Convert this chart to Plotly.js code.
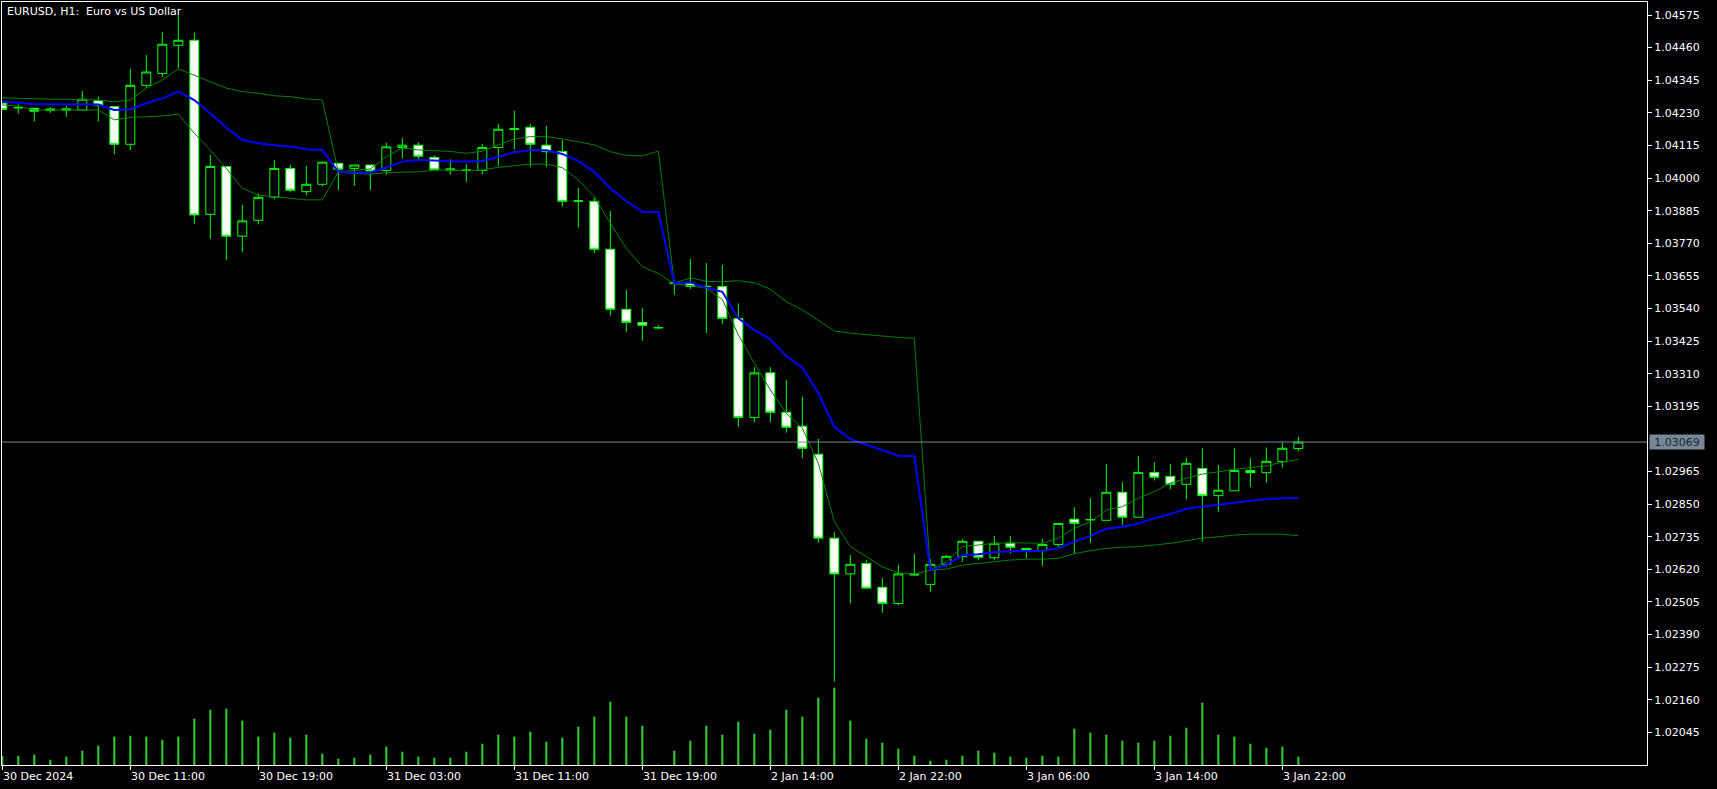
<!DOCTYPE html>
<html>
<head>
<meta charset="utf-8">
<script src="https://cdn.plot.ly/plotly-3.0.1.min.js"></script>
<style>
html,body{margin:0;padding:0;background:#000;}
#chart{width:1717px;height:789px;}
</style>
</head>
<body>
<div id="chart"></div>
<script>
// ---- DATA ----
const symbolTitle = "EURUSD, H1:\u00a0 Euro vs US Dollar";

const times = [
"30 Dec 03:00","30 Dec 04:00","30 Dec 05:00","30 Dec 06:00","30 Dec 07:00","30 Dec 08:00","30 Dec 09:00","30 Dec 10:00","30 Dec 11:00","30 Dec 12:00",
"30 Dec 13:00","30 Dec 14:00","30 Dec 15:00","30 Dec 16:00","30 Dec 17:00","30 Dec 18:00","30 Dec 19:00","30 Dec 20:00","30 Dec 21:00","30 Dec 22:00",
"30 Dec 23:00","31 Dec 00:00","31 Dec 01:00","31 Dec 02:00","31 Dec 03:00","31 Dec 04:00","31 Dec 05:00","31 Dec 06:00","31 Dec 07:00","31 Dec 08:00",
"31 Dec 09:00","31 Dec 10:00","31 Dec 11:00","31 Dec 12:00","31 Dec 13:00","31 Dec 14:00","31 Dec 15:00","31 Dec 16:00","31 Dec 17:00","31 Dec 18:00",
"31 Dec 19:00","31 Dec 20:00","2 Jan 08:00","2 Jan 09:00","2 Jan 10:00","2 Jan 11:00","2 Jan 12:00","2 Jan 13:00","2 Jan 14:00","2 Jan 15:00",
"2 Jan 16:00","2 Jan 17:00","2 Jan 18:00","2 Jan 19:00","2 Jan 20:00","2 Jan 21:00","2 Jan 22:00","2 Jan 23:00","3 Jan 00:00","3 Jan 01:00",
"3 Jan 02:00","3 Jan 03:00","3 Jan 04:00","3 Jan 05:00","3 Jan 06:00","3 Jan 07:00","3 Jan 08:00","3 Jan 09:00","3 Jan 10:00","3 Jan 11:00",
"3 Jan 12:00","3 Jan 13:00","3 Jan 14:00","3 Jan 15:00","3 Jan 16:00","3 Jan 17:00","3 Jan 18:00","3 Jan 19:00","3 Jan 20:00","3 Jan 21:00",
"3 Jan 22:00","3 Jan 23:00"];

const openP = [
1.04264,1.04247,1.04246,1.04238,1.04239,1.04240,1.04273,1.04252,1.04119,1.04327,
1.04369,1.04468,1.04486,1.03872,1.04041,1.03795,1.03851,1.03933,1.04034,1.03952,
1.03978,1.04052,1.04034,1.04046,1.04027,1.04108,1.04116,1.04073,1.04028,1.04027,
1.04027,1.04108,1.04171,1.04179,1.04116,1.04094,1.03918,1.03918,1.03749,1.03537,
1.03491,1.03471,1.03628,1.03629,1.03617,1.03618,1.03505,1.03156,1.03313,1.03174,
1.03125,1.03026,1.02730,1.02604,1.02641,1.02557,1.02500,1.02600,1.02567,1.02638,
1.02665,1.02719,1.02661,1.02712,1.02694,1.02686,1.02708,1.02797,1.02794,1.02793,
1.02892,1.02804,1.02962,1.02948,1.02920,1.02976,1.02880,1.02897,1.02969,1.02961,
1.03000,1.03046];

const highP = [
1.04268,1.04260,1.04246,1.04250,1.04254,1.04307,1.04287,1.04252,1.04385,1.04434,
1.04515,1.04575,1.04513,1.04081,1.04041,1.03905,1.03946,1.04064,1.04046,1.04043,
1.04056,1.04052,1.04046,1.04046,1.04124,1.04140,1.04126,1.04080,1.04066,1.04050,
1.04120,1.04191,1.04237,1.04191,1.04184,1.04134,1.03965,1.03932,1.03884,1.03605,
1.03542,1.03481,1.03640,1.03715,1.03700,1.03693,1.03558,1.03333,1.03333,1.03288,
1.03228,1.03080,1.02751,1.02671,1.02653,1.02589,1.02635,1.02674,1.02656,1.02671,
1.02727,1.02719,1.02738,1.02738,1.02694,1.02727,1.02782,1.02839,1.02871,1.02992,
1.02927,1.03020,1.02998,1.02992,1.03013,1.03047,1.02988,1.03047,1.03012,1.03050,
1.03067,1.03087];

const lowP = [
1.04240,1.04228,1.04199,1.04230,1.04216,1.04240,1.04199,1.04084,1.04098,1.04317,
1.04357,1.04387,1.03838,1.03786,1.03711,1.03738,1.03837,1.03925,1.03950,1.03940,
1.03970,1.03958,1.03973,1.03958,1.04012,1.04070,1.04064,1.04029,1.04012,1.03987,
1.04013,1.04043,1.04102,1.04040,1.04040,1.03899,1.03825,1.03736,1.03515,1.03456,
1.03426,1.03468,1.03589,1.03609,1.03453,1.03485,1.03123,1.03139,1.03139,1.03102,
1.03012,1.02714,1.02224,1.02500,1.02550,1.02467,1.02494,1.02598,1.02541,1.02629,
1.02647,1.02653,1.02653,1.02675,1.02660,1.02633,1.02700,1.02675,1.02714,1.02793,
1.02776,1.02804,1.02933,1.02902,1.02867,1.02718,1.02823,1.02897,1.02912,1.02926,
1.02979,1.03036];

const closeP = [
1.04242,1.04249,1.04236,1.04244,1.04244,1.04278,1.04257,1.04119,1.04327,1.04374,
1.04472,1.04486,1.03870,1.04041,1.03795,1.03849,1.03932,1.04034,1.03957,1.03978,
1.04056,1.04031,1.04046,1.04025,1.04110,1.04116,1.04077,1.04029,1.04032,1.04028,
1.04108,1.04172,1.04175,1.04119,1.04093,1.03918,1.03920,1.03749,1.03537,1.03491,
1.03481,1.03473,1.03630,1.03618,1.03618,1.03505,1.03156,1.03313,1.03174,1.03121,
1.03047,1.02730,1.02604,1.02638,1.02554,1.02500,1.02604,1.02603,1.02638,1.02666,
1.02719,1.02663,1.02712,1.02698,1.02688,1.02708,1.02782,1.02782,1.02796,1.02892,
1.02804,1.02962,1.02945,1.02920,1.02994,1.02880,1.02899,1.02969,1.02961,1.03001,
1.03047,1.03069];

const midLine = [
1.04269,1.04265,1.04261,1.04260,1.04260,1.04260,1.04259,1.04240,1.04243,1.04264,
1.04281,1.04305,1.04275,1.04228,1.04178,1.04134,1.04123,1.04116,1.04111,1.04102,
1.04099,1.04022,1.04019,1.04020,1.04037,1.04058,1.04064,1.04062,1.04058,1.04058,
1.04060,1.04075,1.04091,1.04098,1.04098,1.04085,1.04060,1.04022,1.03964,1.03919,
1.03881,1.03880,1.03629,1.03632,1.03613,1.03599,1.03505,1.03464,1.03431,1.03372,
1.03331,1.03241,1.03123,1.03079,1.03059,1.03039,1.03021,1.03019,1.02618,1.02635,
1.02670,1.02673,1.02680,1.02684,1.02685,1.02686,1.02694,1.02718,1.02738,1.02763,
1.02770,1.02782,1.02800,1.02815,1.02834,1.02841,1.02848,1.02857,1.02862,1.02867,
1.02871,1.02872];

const upperBand = [
1.04283,1.04281,1.04278,1.04278,1.04278,1.04277,1.04275,1.04269,1.04275,1.04317,
1.04346,1.04385,1.04363,1.04340,1.04317,1.04305,1.04299,1.04290,1.04287,1.04279,
1.04275,1.04022,1.04028,1.04032,1.04075,1.04106,1.04099,1.04096,1.04094,1.04087,
1.04095,1.04117,1.04138,1.04146,1.04146,1.04138,1.04128,1.04117,1.04093,1.04080,
1.04078,1.04095,1.03629,1.03648,1.03636,1.03634,1.03638,1.03631,1.03608,1.03564,
1.03535,1.03499,1.03461,1.03453,1.03447,1.03443,1.03438,1.03435,1.02618,1.02647,
1.02700,1.02706,1.02712,1.02714,1.02714,1.02712,1.02730,1.02765,1.02788,1.02829,
1.02841,1.02871,1.02894,1.02924,1.02941,1.02956,1.02964,1.02973,1.02979,1.02985,
1.02998,1.03008];

const lowerBand = [
1.04258,1.04254,1.04240,1.04240,1.04240,1.04240,1.04240,1.04205,1.04214,1.04216,
1.04219,1.04225,1.04158,1.04099,1.04034,1.03964,1.03940,1.03934,1.03929,1.03923,
1.03923,1.04022,1.04016,1.04014,1.04019,1.04021,1.04022,1.04028,1.04028,1.04025,
1.04028,1.04038,1.04043,1.04049,1.04049,1.04037,1.03993,1.03934,1.03840,1.03752,
1.03687,1.03664,1.03626,1.03621,1.03611,1.03572,1.03447,1.03347,1.03253,1.03170,
1.03118,1.02994,1.02788,1.02700,1.02665,1.02629,1.02608,1.02604,1.02617,1.02621,
1.02635,1.02641,1.02647,1.02653,1.02656,1.02656,1.02659,1.02675,1.02686,1.02694,
1.02698,1.02700,1.02706,1.02712,1.02721,1.02730,1.02735,1.02741,1.02744,1.02744,
1.02744,1.02739];

const tickVolume = [
360,372,412,212,332,572,772,1132,1172,1132,
1012,1132,1852,2212,2252,1772,1132,1292,1092,1212,
452,252,292,412,732,532,332,292,292,532,
852,1212,1132,1332,932,1092,1532,1932,2532,1932,
1572,18,572,972,1572,1212,1732,1252,1412,2212,
1932,2692,3092,1772,1052,892,652,372,172,212,
372,572,492,332,292,372,332,1452,1292,1212,
972,892,972,1172,1492,2492,1212,1132,852,692,
732,332];

const xTickTimes = ["30 Dec 03:00","30 Dec 11:00","30 Dec 19:00","31 Dec 03:00","31 Dec 11:00","31 Dec 19:00","2 Jan 14:00","2 Jan 22:00","3 Jan 06:00","3 Jan 14:00","3 Jan 22:00"];
const xTickLabels = ["30 Dec 2024","30 Dec 11:00","30 Dec 19:00","31 Dec 03:00","31 Dec 11:00","31 Dec 19:00","2 Jan 14:00","2 Jan 22:00","3 Jan 06:00","3 Jan 14:00","3 Jan 22:00"];

const yTickLabels = ["1.04575","1.04460","1.04345","1.04230","1.04115","1.04000","1.03885","1.03770","1.03655","1.03540","1.03425","1.03310","1.03195","1.02965","1.02850","1.02735","1.02620","1.02505","1.02390","1.02275","1.02160","1.02045"];

const bidPrice = 1.03069;

// ---- CHART ----
const FONT = "DejaVu Sans";
const GREEN = "#00ff00";

const traces = [
  {
    type: "candlestick",
    x: times, open: openP, high: highP, low: lowP, close: closeP,
    increasing: {line: {color: GREEN, width: 1}, fillcolor: "#000000"},
    decreasing: {line: {color: GREEN, width: 1}, fillcolor: "#ffffff"},
    whiskerwidth: 0,
    hoverinfo: "skip",
    showlegend: false
  },
  {
    type: "scatter", mode: "lines", x: times, y: upperBand,
    line: {color: "#008000", width: 1}, hoverinfo: "skip", showlegend: false
  },
  {
    type: "scatter", mode: "lines", x: times, y: lowerBand,
    line: {color: "#008000", width: 1}, hoverinfo: "skip", showlegend: false
  },
  {
    type: "scatter", mode: "lines", x: times, y: midLine,
    line: {color: "#0000ff", width: 2}, hoverinfo: "skip", showlegend: false
  },
  {
    type: "bar", x: times, y: tickVolume, yaxis: "y2",
    marker: {color: "#32cd32", line: {width: 0}}, width: 0.13,
    hoverinfo: "skip", showlegend: false
  }
];

const annotations = [
  {
    xref: "paper", yref: "paper", x: 0, y: 1, xanchor: "left", yanchor: "top",
    xshift: 3, yshift: -1, showarrow: false, text: symbolTitle,
    font: {family: FONT, size: 11, color: "#ffffff"}
  },
  {
    xref: "paper", yref: "y", x: 1, y: bidPrice, xanchor: "left", yanchor: "middle",
    xshift: 2, showarrow: false, text: bidPrice.toFixed(5),
    bgcolor: "#778899", borderpad: 1, width: 52, height: 12, align: "center",
    font: {family: FONT, size: 11, color: "#1b2330"}
  }
];
xTickTimes.forEach((t, i) => {
  annotations.push({
    xref: "x", yref: "paper", x: t, y: 0, xanchor: "left", yanchor: "top",
    xshift: -1, yshift: -3, showarrow: false, text: xTickLabels[i],
    font: {family: FONT, size: 11, color: "#ffffff"}
  });
});

const layout = {
  width: 1717, height: 789,
  paper_bgcolor: "#000000", plot_bgcolor: "#000000",
  margin: {l: 2, r: 70, t: 2, b: 24, pad: 0},
  showlegend: false,
  boxgap: 0.44, boxgroupgap: 0,
  xaxis: {
    type: "category", range: [-0.019, 102.79], autorange: false,
    showgrid: false, zeroline: false,
    showline: true, linecolor: "#ffffff", linewidth: 1, mirror: true,
    ticks: "outside", ticklen: 4, tickcolor: "#ffffff", tickwidth: 1,
    tickmode: "array", tickvals: xTickTimes, showticklabels: false,
    rangeslider: {visible: false}, fixedrange: true
  },
  yaxis: {
    side: "right", range: [1.0193013, 1.0462085], autorange: false,
    showgrid: false, zeroline: false,
    showline: true, linecolor: "#ffffff", linewidth: 1, mirror: true,
    ticks: "outside", ticklen: 4, tickcolor: "#ffffff", tickwidth: 1,
    tickmode: "array", tickvals: yTickLabels.map(Number), ticktext: yTickLabels,
    tickfont: {family: FONT, size: 11, color: "#ffffff"},
    fixedrange: true
  },
  yaxis2: {
    overlaying: "y", side: "right", range: [0, 30520], autorange: false,
    visible: false, showgrid: false, zeroline: false, fixedrange: true
  },
  shapes: [
    {type: "line", xref: "paper", yref: "y", x0: 0, x1: 1, y0: bidPrice, y1: bidPrice,
     line: {color: "#778899", width: 1}, layer: "above"}
  ],
  annotations: annotations
};

Plotly.newPlot("chart", traces, layout, {displayModeBar: false, staticPlot: true});
</script>
</body>
</html>
